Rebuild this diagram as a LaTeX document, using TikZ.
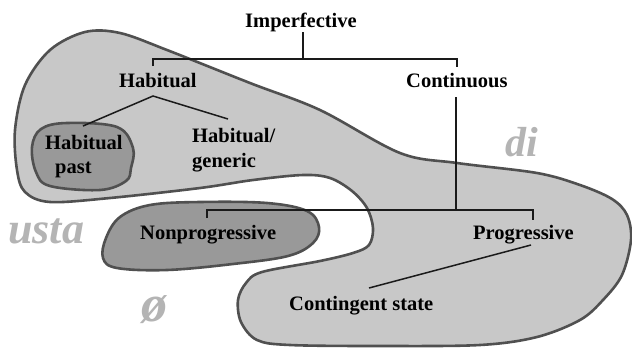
\documentclass[tikz,border=0pt]{standalone}
\usepackage{fontspec}
\setmainfont{Liberation Serif}
\definecolor{lightfill}{HTML}{C8C8C8}
\definecolor{darkfill}{HTML}{999999}
\definecolor{edgegray}{HTML}{505050}
\definecolor{treeblack}{HTML}{1A1A1A}
\definecolor{morphgray}{HTML}{B4B4B4}
\begin{document}
\begin{tikzpicture}[x=1pt,y=-1pt,
  blob/.style={draw=edgegray,line width=2.6pt,line join=round},
  tree/.style={draw=treeblack,line width=1.5pt},
  lbl/.style={inner sep=0pt,anchor=base west,font=\fontsize{20.5}{24}\selectfont\bfseries},
  morph/.style={inner sep=0pt,anchor=base west,text=morphgray,font=\fontsize{44}{48}\selectfont\bfseries\itshape}]
\useasboundingbox (0,0) rectangle (632,349);
\fill[white] (0,0) rectangle (632,349);
% outer region (di)
\path[blob,fill=lightfill] plot[smooth cycle,tension=0.55] coordinates {
 (15,130) (25,85) (50,50) (85,32) (120,33) (167,50) (250,83) (320,110)
 (400,153) (457,163) (537,173) (580,185) (612,199) (627,215) (631,240)
 (622,275) (603,300) (580,320) (537,337) (480,345) (380,346) (290,345)
 (257,340) (241,322) (238,300) (246,283) (262,272) (320,261) (353,253)
 (369,245) (373,228) (367,208) (352,191) (330,178) (303,175) (253,180)
 (200,188) (110,198) (50,202) (25,192) (17,170)};
% habitual past region
\path[blob,fill=darkfill] plot[smooth cycle,tension=0.6] coordinates {
 (67,123) (117,127) (133,148) (131,168) (126,181) (100,190) (50,186)
 (36,172) (32,147) (41,129)};
% nonprogressive region
\path[blob,fill=darkfill] plot[smooth cycle,tension=0.6] coordinates {
 (150,205) (200,202) (267,203) (307,211) (319,227) (313,243) (288,256)
 (233,264) (167,270) (117,268) (103,258) (106,238) (120,217)};
% labels
\node[lbl] (imp) at (245,27) {Imperfective};
\node[lbl] (hab) at (119,87) {Habitual};
\node[lbl] (cont) at (406,87) {Continuous};
\node[lbl] (hp1) at (45,149) {Habitual};
\node[lbl] (hp2) at (55,173) {past};
\node[lbl] (hg1) at (192,142) {Habitual/};
\node[lbl] (hg2) at (192,167) {generic};
\node[lbl] (nonprog) at (140,239) {Nonprogressive};
\node[lbl] (prog) at (473,239) {Progressive};
\node[lbl] (cs) at (289,310) {Contingent state};
\node[morph] (usta) at (8,243) {usta};
\node[morph,font=\fontsize{42}{46}\selectfont\bfseries\itshape] (di) at (505,156) {di};
\node[morph,font=\fontsize{52}{56}\selectfont\bfseries\itshape] (zero) at (141,321) {ø};
% tree connectors
\coordinate (impbar) at (303,59);
\coordinate (impbot) at (303,32);
\coordinate (habtick) at (153,66);
\coordinate (conttick) at (457,67);
\draw[tree] (impbot) -- (impbar);
\draw[tree] (habtick) |- (impbar) -| (conttick);
\coordinate (habroot) at (153,96);
\coordinate (pasttop) at (83,126);
\coordinate (gentop) at (228,119);
\draw[tree] (pasttop) -- (habroot) -- (gentop);
\coordinate (contbot) at (456,97);
\coordinate (contbar) at (456,210);
\draw[tree] (contbot) -- (contbar);
\coordinate (nontick) at (207,218);
\coordinate (progtick) at (533,220);
\draw[tree] (nontick) |- (contbar) -| (progtick);
\coordinate (progbot) at (531,245);
\coordinate (cstop) at (369,288);
\draw[tree] (progbot) -- (cstop);
\end{tikzpicture}
\end{document}
